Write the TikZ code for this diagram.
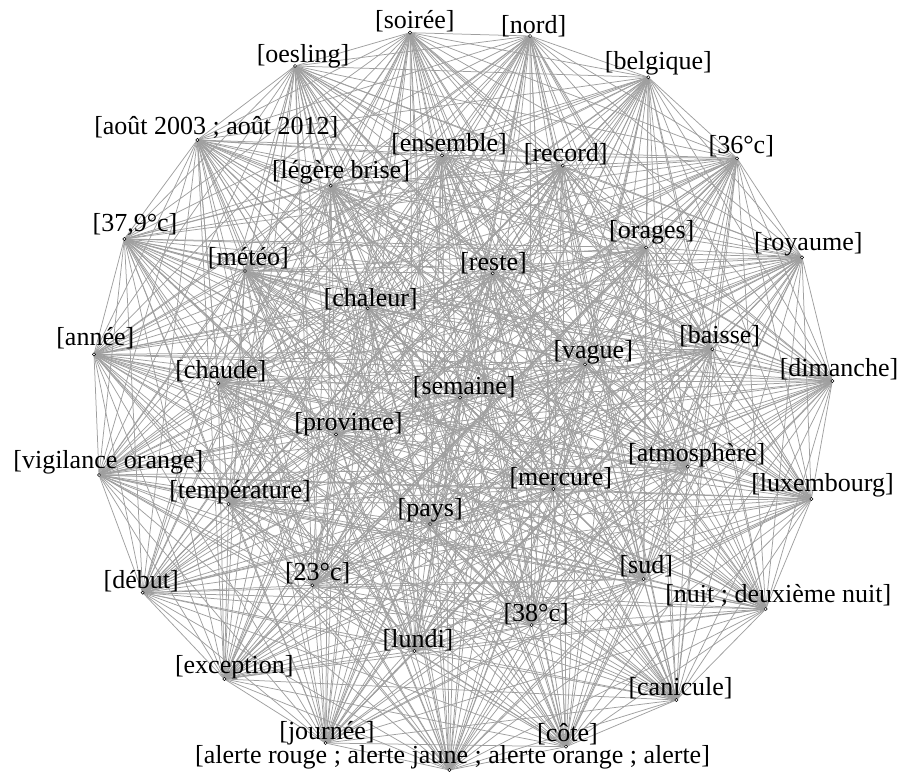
\documentclass[tikz,border=0pt]{standalone}
\usepackage{fontspec}
\setmainfont{Liberation Serif}
\pgfdeclarelayer{bg}
\pgfsetlayers{bg,main}
\begin{document}
\begin{tikzpicture}[x=1pt,y=-1pt,
  vdot/.style={circle,draw=black,fill=white,line width=0.5pt,inner sep=0pt,minimum size=3.2pt},
  vlab/.style={anchor=base,inner sep=0pt,font=\fontsize{26}{30}\selectfont},
  edge/.style={draw=gray!75,line width=0.75pt}]
\useasboundingbox (0,0) rectangle (900,773);
\foreach \i/\x/\y/\lx/\ly/\t in {
  1/410/32.7/414.9/28.3/{[soirée]},
  2/530/36/533.7/33.3/{[nord]},
  3/648.3/77.3/658.4/70/{[belgique]},
  4/737/158.3/741.3/153.3/{[36°c]},
  5/802/257.3/808.3/250/{[royaume]},
  6/832.3/381/839/376.7/{[dimanche]},
  7/811.3/499/822.5/491.7/{[luxembourg]},
  8/765.7/609/778.3/602.7/{[nuit ; deuxième nuit]},
  9/676.3/700/680.5/695/{[canicule]},
  10/566/746.7/567.5/741.7/{[côte]},
  11/449.3/770/452.5/763.3/{[alerte rouge ; alerte jaune ; alerte orange ; alerte]},
  12/325.5/743/327/739/{[journée]},
  13/224.3/679/234.2/673.3/{[exception]},
  14/142.7/592.7/141.2/588.3/{[début]},
  15/99/475/108.3/468.3/{[vigilance orange]},
  16/94/354.3/95.3/345/{[année]},
  17/124.3/239/135/231.7/{[37,9°c]},
  18/197.3/140/216.3/135/{[août 2003 ; août 2012]},
  19/295/66/303/62.7/{[oesling]},
  20/330.7/185.7/341/178.3/{[légère brise]},
  21/442/155.3/449/151.7/{[ensemble]},
  22/562.7/165.7/565.7/161.7/{[record]},
  23/646/247.5/651.8/238.3/{[orages]},
  24/492.7/273.3/493.5/270/{[reste]},
  25/245/271/248.3/265/{[météo]},
  26/367.7/308.3/370.7/306/{[chaleur]},
  27/712.3/349.3/719.7/343.3/{[baisse]},
  28/585/364.3/593.2/358.3/{[vague]},
  29/218.3/383.3/220.8/378.3/{[chaude]},
  30/460/397.7/464.2/394.3/{[semaine]},
  31/336/434.3/348.5/430/{[province]},
  32/687.7/466.7/696.8/461.7/{[atmosphère]},
  33/553.3/489/560.8/485/{[mercure]},
  34/228.7/504/240/498.3/{[température]},
  35/430/524/430.2/516.7/{[pays]},
  36/312.3/585.3/317.7/580.7/{[23°c]},
  37/643.7/579/646.3/573.3/{[sud]},
  38/531.7/625/536.2/621.7/{[38°c]},
  39/414.3/651/418/647.3/{[lundi]}} {
  \node[vdot] (n\i) at (\x,\y) {};
  \node[vlab] (l\i) at (\lx,\ly) {\t};
}
\begin{pgfonlayer}{bg}
\foreach \i in {1,...,38} {
  \pgfmathtruncatemacro\nx{\i+1}
  \foreach \j in {\nx,...,39} {
    \draw[edge] (n\i.center) -- (n\j.center);
  }
}
\end{pgfonlayer}
\end{tikzpicture}
\end{document}
